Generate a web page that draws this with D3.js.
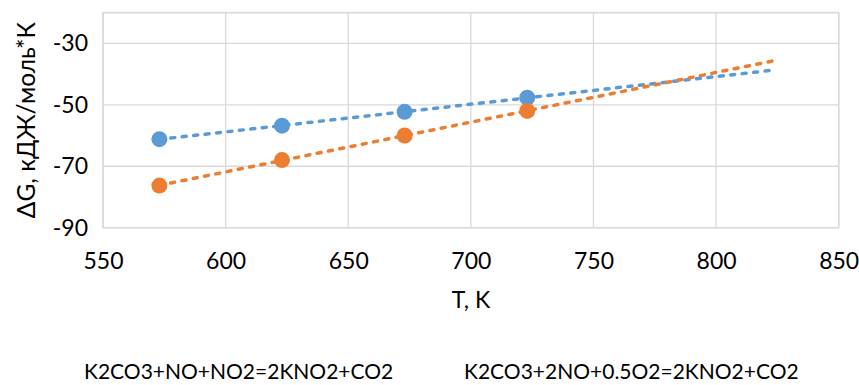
<!DOCTYPE html>
<html><head><meta charset="utf-8">
<script src="https://cdn.jsdelivr.net/npm/d3@7"></script>
<style>body{margin:0;background:#fff}svg{display:block}text{font-family:Lato,"Open Sans",sans-serif;fill:#000}</style>
</head><body><svg id="c" width="859" height="385"></svg>
<script>
const temps = [573, 623, 673, 723];
const series1 = [-61.2, -56.8, -52.3, -47.7];
const series2 = [-76.3, -68.0, -60.0, -52.0];
const seriesNames = ["K2CO3+NO+NO2=2KNO2+CO2", "K2CO3+2NO+0.5O2=2KNO2+CO2"];
const colors = ["#5B9BD5", "#ED7D31"];
const xTicks = [550, 600, 650, 700, 750, 800, 850];
const yTicks = [-90, -70, -50, -30];
const trendForward = 100;

const svg = d3.select("#c");
const L = 103, R = 838.7, T = 12.6, B = 227.7;
const x = d3.scaleLinear().domain([550, 850]).range([L, R]);
const y = d3.scaleLinear().domain([-90, -20]).range([B, T]);

// gridlines
const grid = svg.append("g");
grid.selectAll(".gx").data(xTicks).join("line")
  .attr("x1", d => x(d)).attr("x2", d => x(d)).attr("y1", T).attr("y2", B)
  .attr("stroke", "#d9d9d9").attr("stroke-width", 1.3);
grid.selectAll(".gy").data(yTicks.concat([-20])).join("line")
  .attr("x1", L).attr("x2", R).attr("y1", d => y(d)).attr("y2", d => y(d))
  .attr("stroke", "#d9d9d9").attr("stroke-width", 1.3);
svg.append("rect").attr("x", L).attr("y", T).attr("width", R - L).attr("height", B - T)
  .attr("fill", "none").attr("stroke", "#d9d9d9").attr("stroke-width", 1.5);

// axes (labels only)
const xAxis = svg.append("g").attr("transform", `translate(0,${B})`)
  .call(d3.axisBottom(x).tickValues(xTicks).tickSize(0).tickPadding(0).tickFormat(d => String(d)));
xAxis.select(".domain").remove();
xAxis.selectAll("text").attr("y", 33).attr("dy", "0.35em").style("font-size", "23px").style("font-family", "Lato");

const yAxis = svg.append("g").attr("transform", `translate(${L},0)`)
  .call(d3.axisLeft(y).tickValues(yTicks).tickSize(0).tickPadding(15).tickFormat(d => String(d)));
yAxis.select(".domain").remove();
yAxis.selectAll("text").style("font-size", "23px").style("font-family", "Lato");

// trend lines (least squares)
function fit(xs, ys) {
  const mx = d3.mean(xs), my = d3.mean(ys);
  const s = d3.sum(xs.map((v, i) => (v - mx) * (ys[i] - my))) / d3.sum(xs.map(v => (v - mx) ** 2));
  return v => my + s * (v - mx);
}
const all = [series1, series2];
const line = d3.line().x(d => x(d[0])).y(d => y(d[1]));
all.forEach((vals, i) => {
  const f = fit(temps, vals);
  const x0 = temps[0], x1 = temps[temps.length - 1] + trendForward;
  svg.append("path").datum([[x0, f(x0)], [x1, f(x1)]])
    .attr("d", line).attr("fill", "none").attr("stroke", colors[i])
    .attr("stroke-width", 3.5).attr("stroke-linecap", "round").attr("stroke-dasharray", "4 7.5");
});
all.forEach((vals, i) => {
  svg.append("g").selectAll("circle").data(temps).join("circle")
    .attr("cx", d => x(d)).attr("cy", (d, j) => y(vals[j])).attr("r", 8)
    .attr("fill", colors[i]);
});

// titles
svg.append("text").attr("x", 471).attr("y", 300).attr("dy", "0.35em")
  .attr("text-anchor", "middle").style("font-size", "23px").text("T, K");
svg.append("text").attr("transform", `translate(26,${(T + B) / 2}) rotate(-90)`)
  .attr("dy", "0.35em").attr("text-anchor", "middle").style("font-size", "24.5px")
  .text("ΔG, кДЖ/моль*К");

// legend
const legX = [84, 464];
svg.append("g").selectAll("text").data(seriesNames).join("text")
  .attr("x", (d, i) => legX[i]).attr("y", 379).style("font-size", "21px").text(d => d);
</script></body></html>
